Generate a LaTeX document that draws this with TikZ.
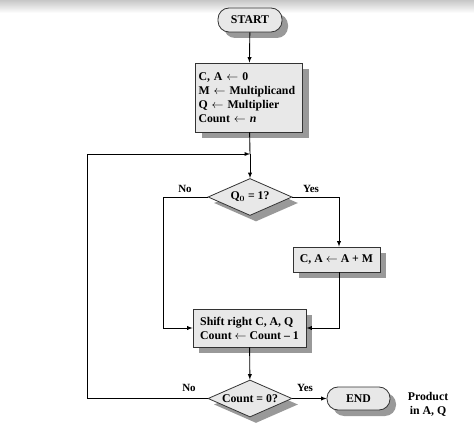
\documentclass[tikz,border=0pt]{standalone}
\usepackage{fontspec}
\setmainfont{Liberation Serif}
\usepackage{amsmath}
\usepackage{tikz}
\usetikzlibrary{shapes.geometric, arrows, positioning, shadows}

\begin{document}
\begin{tikzpicture}[x=1pt,y=-1pt,font=\fontsize{11.8}{14}\selectfont\bfseries]
				\tikzset{box/.style = {draw=black!80, line width=0.8pt, fill=black!9, inner sep=3pt,
						drop shadow={shadow xshift=6pt, shadow yshift=-6pt, fill=black!40, opacity=1}}}
				\tikzset{term/.style = {box, rounded corners=11pt, minimum width=64pt, minimum height=24pt}}
				\tikzset{test/.style = {box, diamond, aspect=2.3, inner xsep=-6pt, inner ysep=0pt, minimum width=84pt, minimum height=37pt}}
				\tikzset{flow/.style = {line width=0.9pt, -latex}}
				\tikzset{wire/.style = {line width=0.9pt}}
				\tikzset{lbl/.style = {font=\fontsize{11}{12}\selectfont\bfseries}}
				
				\useasboundingbox (0,0) rectangle (474,430);
				\shade[top color=black!22, bottom color=white] (0,0) rectangle (474,13);
				
				\node[term] (START) at (250,20) {START};
				\node[box, align=left, text width=101pt, minimum height=69pt] (INIT) at (249,97.5)
				{C, A $\leftarrow$ 0\\ M $\leftarrow$ Multiplicand\\ Q $\leftarrow$ Multiplier\\ Count $\leftarrow$ \textit{n}};
				\node[test] (Q0) at (250,197) {Q$_{\boldsymbol{0}}$ = 1?};
				\node[box, minimum width=87pt, minimum height=25pt] (ADD) at (336.5,259.5) {C, A $\leftarrow$ A + M};
				\node[box, align=left, minimum width=113pt, minimum height=38pt] (SHIFT) at (249.5,328)
				{Shift right C, A, Q\\ Count $\leftarrow$ Count -- 1};
				\node[test] (CNT) at (250,398.5) {Count = 0?};
				\node[term, minimum width=63pt, minimum height=23pt] (END) at (358.5,398.5) {END};
				\node[align=center] (PROD) at (428,404) {Product\\ in A, Q};
				
				%%%%%%%%%%%%%%%%%%%%%%%%%%%%%%
				
				\coordinate (J) at (250,154);
				\coordinate (L1) at (87,154);
				\coordinate (L2) at (87,398.5);
				\coordinate (N1) at (163,197);
				\coordinate (N2) at (163,328);
				\coordinate (Y1) at (339,197);
				\coordinate (Y2) at (339,328);
				
				\draw[flow] (START) -- (INIT);
				\draw[wire] (INIT) -- (J);
				\draw[flow] (J) -- (Q0);
				\draw[flow] (Q0.west) -- (N1) -- (N2) -- (SHIFT.west);
				\draw[flow] (Q0.east) -- (Y1) -- (ADD.north -| Y1);
				\draw[flow] (ADD.south -| Y2) -- (Y2) -- (SHIFT.east);
				\draw[flow] (SHIFT) -- (CNT);
				\draw[flow] (CNT.east) -- (END);
				\draw[flow] (CNT.west) -- (L2) -- (L1) -- (J);
				
				\node[lbl] (NO1) at (185,189) {No};
				\node[lbl] (YES1) at (311,189) {Yes};
				\node[lbl] (NO2) at (189,388) {No};
				\node[lbl] (YES2) at (305,388) {Yes};
				
\end{tikzpicture}
\end{document}
